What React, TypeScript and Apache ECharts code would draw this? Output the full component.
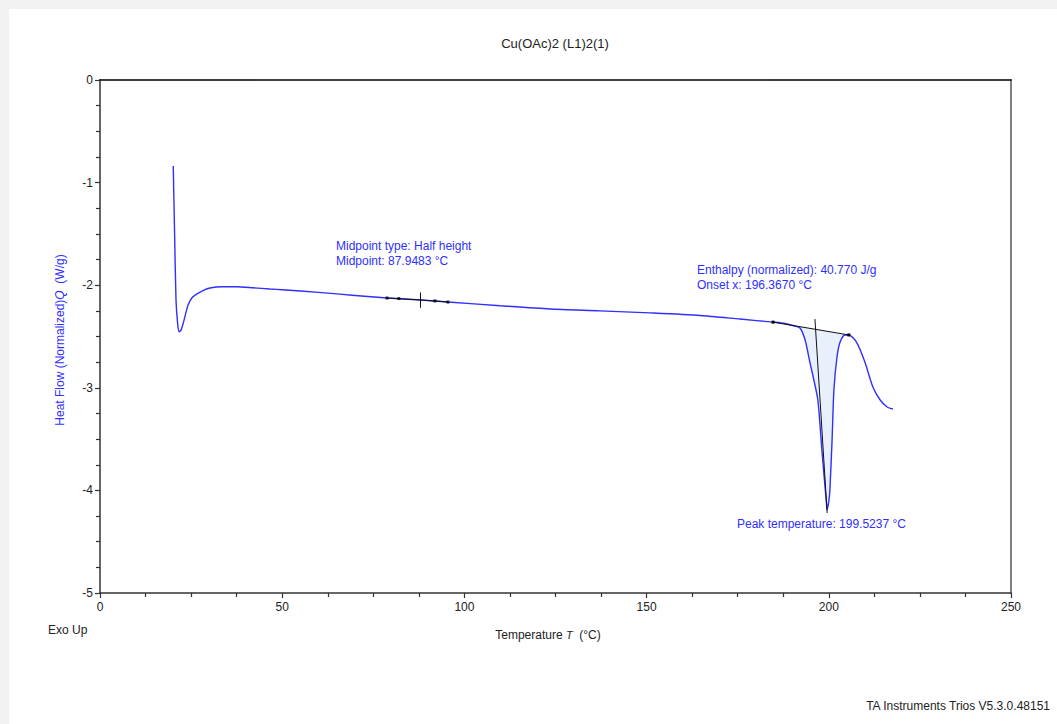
import React, { useEffect, useRef } from "react";
import * as echarts from "echarts";

// Heat-flow curve (Temperature °C, Heat Flow W/g)
const temps = [
  20.1, 20.45, 20.86, 21.27, 21.68, 22.2, 22.86, 23.5, 24.2, 25.2, 26.6, 28.4, 30.19, 33.4, 37.5, 42.0, 46.65,
  50.0, 60.0, 70.0, 78.76, 88.1, 95.5, 109.8, 123.5, 137.2, 150.9, 164.7, 175.6, 184.7,
  188.0, 190.7, 192.1, 193.5, 194.8, 195.9, 197.0, 198.1, 198.8, 199.4, 199.52, 200.05, 200.3,
  200.9, 201.4, 202.25, 203.1, 204.4, 205.8, 207.7, 209.9, 212.1, 214.1, 216.0, 217.6,
];
const heatFlow = [
  -0.838, -1.46, -2.144, -2.36, -2.453, -2.44, -2.368, -2.28, -2.19, -2.125, -2.085, -2.05, -2.027, -2.015, -2.015, -2.025, -2.037,
  -2.045, -2.07, -2.1, -2.125, -2.144, -2.164, -2.2, -2.232, -2.25, -2.27, -2.295, -2.33, -2.36,
  -2.373, -2.398, -2.417, -2.534, -2.749, -2.924, -3.119, -3.606, -3.899, -4.142, -4.19, -4.094, -3.996,
  -3.509, -3.021, -2.7, -2.554, -2.485, -2.49, -2.563, -2.749, -2.992, -3.119, -3.187, -3.207,
];

// Integration baseline of the melting peak
const baselineT = [184.7, 205.5];
const baselineQ = [-2.36, -2.485];
// Onset tangent line
const onsetT = [196.2, 199.55];
const onsetQ = [-2.33, -4.22];
// Glass-transition analysis overlay (midpoint 87.9483 °C)
const midSegT = [78.76, 88.1, 95.5];
const midSegQ = [-2.125, -2.144, -2.164];
const midMarkT = [78.76, 82.0, 91.9, 95.5];
const midMarkQ = [-2.125, -2.13, -2.153, -2.164];
const midCrossT = [87.95, 87.95];
const midCrossQ = [-2.07, -2.22];
// Fill range of the integrated peak
const fillStart = 192.1;
const fillEnd = 205.5;

const xTicks = [0, 50, 100, 150, 200, 250];
const yTicks = [0, -1, -2, -3, -4, -5];

const FONT = "Liberation Sans, Arial, sans-serif";
const BLUE = "#2f2fff";

export default function App() {
  const ref = useRef<HTMLDivElement>(null);
  useEffect(() => {
    if (!ref.current) return;
    const chart = echarts.init(ref.current, undefined, { renderer: "svg" });
    const curve = temps.map((t, i) => [t, heatFlow[i]]);

    const baseAt = (t: number) =>
      baselineQ[0] + ((t - baselineT[0]) * (baselineQ[1] - baselineQ[0])) / (baselineT[1] - baselineT[0]);

    const fillPts: number[][] = [];
    temps.forEach((t, i) => {
      if (t >= fillStart && t <= fillEnd) fillPts.push([t, heatFlow[i]]);
    });
    fillPts.push([fillEnd, baseAt(fillEnd)]);
    fillPts.push([fillStart, baseAt(fillStart)]);

    chart.setOption({
      animation: false,
      backgroundColor: "#ffffff",
      grid: { left: 100, top: 80, right: 46, bottom: 131, containLabel: false },
      xAxis: [
        {
          type: "value",
          min: xTicks[0],
          max: xTicks[xTicks.length - 1],
          interval: 50,
          axisLine: { show: true, onZero: false, lineStyle: { color: "#333", width: 1.5 } },
          axisTick: { show: true, length: 5, lineStyle: { color: "#333", width: 1.2 } },
          minorTick: { show: true, splitNumber: 4, length: 4, lineStyle: { color: "#333", width: 1.2 } },
          axisLabel: { color: "#222", fontFamily: FONT, fontSize: 12, margin: 8 },
          splitLine: { show: false },
        },
        {
          type: "value",
          position: "top",
          min: 0,
          max: 250,
          axisLine: { show: true, onZero: false, lineStyle: { color: "#000", width: 1.5 } },
          axisTick: { show: false },
          axisLabel: { show: false },
          splitLine: { show: false },
        },
      ],
      yAxis: [
        {
          type: "value",
          min: yTicks[yTicks.length - 1],
          max: yTicks[0],
          interval: 1,
          axisLine: { show: true, onZero: false, lineStyle: { color: "#666", width: 2 } },
          axisTick: { show: true, length: 5, lineStyle: { color: "#333", width: 1.2 } },
          minorTick: { show: true, splitNumber: 4, length: 4, lineStyle: { color: "#333", width: 1.2 } },
          axisLabel: { color: "#222", fontFamily: FONT, fontSize: 12, margin: 7 },
          splitLine: { show: false },
        },
        {
          type: "value",
          position: "right",
          min: -5,
          max: 0,
          axisLine: { show: true, onZero: false, lineStyle: { color: "#808080", width: 2 } },
          axisTick: { show: false },
          axisLabel: { show: false },
          splitLine: { show: false },
        },
      ],
      series: [
        {
          type: "custom",
          coordinateSystem: "cartesian2d",
          silent: true,
          data: [[fillStart, baseAt(fillStart)]],
          renderItem: (_p: any, api: any) => ({
            type: "polygon",
            shape: { points: fillPts.map((p) => api.coord(p)) },
            style: { fill: "#e8f1fb", stroke: "none" },
          }),
          z: 1,
        },
        {
          type: "line",
          data: curve,
          showSymbol: false,
          smooth: 0.25,
          lineStyle: { color: BLUE, width: 1.4 },
          z: 3,
        },
        {
          type: "line",
          data: baselineT.map((t, i) => [t, baselineQ[i]]),
          symbol: "rect",
          symbolSize: [3, 3],
          itemStyle: { color: "#000" },
          lineStyle: { color: "#111", width: 1 },
          z: 4,
        },
        {
          type: "line",
          data: onsetT.map((t, i) => [t, onsetQ[i]]),
          showSymbol: false,
          lineStyle: { color: "#111", width: 1 },
          z: 4,
        },
        {
          type: "line",
          data: midSegT.map((t, i) => [t, midSegQ[i]]),
          showSymbol: false,
          lineStyle: { color: "#111", width: 1.2 },
          z: 4,
        },
        {
          type: "scatter",
          data: midMarkT.map((t, i) => [t, midMarkQ[i]]),
          symbol: "rect",
          symbolSize: [3, 3],
          itemStyle: { color: "#000" },
          z: 5,
        },
        {
          type: "line",
          data: midCrossT.map((t, i) => [t, midCrossQ[i]]),
          showSymbol: false,
          lineStyle: { color: "#111", width: 1 },
          z: 4,
        },
      ],
      graphic: [
        { type: "rect", shape: { x: 0, y: 0, width: 1057, height: 9 }, style: { fill: "#f2f2f2" }, silent: true },
        { type: "rect", shape: { x: 0, y: 0, width: 9, height: 724 }, style: { fill: "#f2f2f2" }, silent: true },
        {
          type: "text",
          x: 555,
          y: 43,
          style: { text: "Cu(OAc)2 (L1)2(1)", fill: "#222", font: `13px ${FONT}`, align: "center", verticalAlign: "middle" },
        },
        {
          type: "text",
          x: 336,
          y: 238,
          style: {
            text: "Midpoint type: Half height\nMidpoint: 87.9483 °C",
            fill: BLUE,
            font: `12px ${FONT}`,
            lineHeight: 15,
            align: "left",
            verticalAlign: "top",
          },
        },
        {
          type: "text",
          x: 697,
          y: 262,
          style: {
            text: "Enthalpy (normalized): 40.770 J/g\nOnset x: 196.3670 °C",
            fill: BLUE,
            font: `12px ${FONT}`,
            lineHeight: 15,
            align: "left",
            verticalAlign: "top",
          },
        },
        {
          type: "text",
          x: 737,
          y: 524,
          style: { text: "Peak temperature: 199.5237 °C", fill: BLUE, font: `12px ${FONT}`, align: "left", verticalAlign: "middle" },
        },
        {
          type: "text",
          x: 60,
          y: 340,
          rotation: Math.PI / 2,
          style: {
            text: "{a|Heat Flow (Normalized)}{i|Q}{a|  (W/g)}",
            align: "center",
            verticalAlign: "middle",
            rich: {
              a: { fill: BLUE, font: `12px ${FONT}` },
              i: { fill: BLUE, font: `italic 12px ${FONT}` },
            },
          },
        },
        {
          type: "text",
          x: 548,
          y: 635,
          style: {
            text: "{a|Temperature }{i|T}{a|  (°C)}",
            align: "center",
            verticalAlign: "middle",
            rich: {
              a: { fill: "#222", font: `12px ${FONT}` },
              i: { fill: "#222", font: `italic 11px ${FONT}` },
            },
          },
        },
        {
          type: "text",
          x: 48,
          y: 630,
          style: { text: "Exo Up", fill: "#222", font: `12px ${FONT}`, align: "left", verticalAlign: "middle" },
        },
        {
          type: "text",
          x: 1050,
          y: 706,
          style: { text: "TA Instruments Trios V5.3.0.48151", fill: "#222", font: `12px ${FONT}`, align: "right", verticalAlign: "middle" },
        },
      ],
    });
    return () => chart.dispose();
  }, []);
  return (
    <div
      ref={ref}
      style={{ position: "fixed", left: 0, top: 0, width: 1057, height: 724, background: "#fff" }}
    />
  );
}
